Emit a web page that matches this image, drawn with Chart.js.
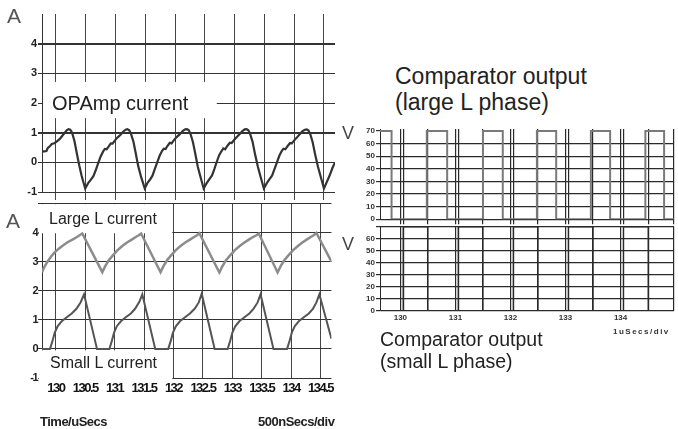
<!DOCTYPE html>
<html>
<head>
<meta charset="utf-8">
<script src="https://cdn.jsdelivr.net/npm/chart.js@4.4.1/dist/chart.umd.min.js"></script>
<style>
  body { margin: 0; background: #fff; }
  #wrap { position: relative; width: 678px; height: 429px; overflow: hidden;
          font-family: "Liberation Sans", Arial, sans-serif; color: #222; }
  canvas { position: absolute; }
  .t { position: absolute; white-space: nowrap; line-height: 1; }
  .b { font-weight: bold; }
</style>
</head>
<body>
<div id="wrap">
  <canvas id="opamp" width="340" height="200" style="left:0;top:0;width:340px;height:200px"></canvas>
  <canvas id="inductor" width="340" height="204" style="left:0;top:196px;width:340px;height:204px"></canvas>
  <canvas id="compLarge" width="338" height="105" style="left:340px;top:120px;width:338px;height:105px"></canvas>
  <canvas id="compSmall" width="338" height="104" style="left:340px;top:221px;width:338px;height:104px"></canvas>

  <div class="t" style="left:7px;top:5px;font-size:21px;color:#555">A</div>
  <div class="t" style="left:6px;top:210px;font-size:21px;color:#555">A</div>
  <div class="t" style="left:52px;top:93px;font-size:20px">OPAmp current</div>
  <div class="t" style="left:49px;top:211px;font-size:16px">Large L current</div>
  <div class="t" style="left:50px;top:355px;font-size:16px">Small L current</div>
  <div class="t b" style="left:40px;top:415px;font-size:13px;letter-spacing:-0.5px">Time/uSecs</div>
  <div class="t b" style="left:258px;top:415px;font-size:13px;letter-spacing:-0.5px">500nSecs/div</div>

  <div class="t" style="left:342px;top:124px;font-size:18px;color:#444">V</div>
  <div class="t" style="left:342px;top:235px;font-size:18px;color:#444">V</div>
  <div class="t" style="left:395px;top:63px;font-size:23px;line-height:26px">Comparator output<br>(large L phase)</div>
  <div class="t" style="left:380px;top:329px;font-size:19.5px;line-height:21.5px">Comparator output<br>(small L phase)</div>
  <div class="t b" style="left:613px;top:328px;font-size:8px;letter-spacing:1.5px;color:#333">1uSecs/div</div>
</div>

<script>
// ---- left panels: currents (A) vs time (uSecs)
const timeTicks = [130, 130.5, 131, 131.5, 132, 132.5, 133, 133.5, 134, 134.5];
const timeLabels = ['130', '130.5', '131', '131.5', '132', '132.5', '133', '133.5', '134', '134.5'];
const ampTicks = [-1, 0, 1, 2, 3, 4, 5];
const ampLabels = ['-1', '0', '1', '2', '3', '4', ''];

const opampTime = [129.765, 129.80, 129.84, 129.86, 129.90, 129.93, 129.97, 130.01, 130.06, 130.10, 130.14, 130.18, 130.21, 130.24, 130.27, 130.31, 130.35, 130.39, 130.43, 130.49,
  130.54, 130.58, 130.63, 130.67, 130.71, 130.75, 130.79, 130.82, 130.85, 130.88, 130.92, 130.95, 130.99, 131.04, 131.08, 131.13, 131.17, 131.20, 131.23, 131.26, 131.30, 131.34, 131.38, 131.43, 131.49,
  131.54, 131.58, 131.62, 131.66, 131.70, 131.74, 131.78, 131.81, 131.84, 131.87, 131.91, 131.94, 131.98, 132.03, 132.08, 132.13, 132.17, 132.20, 132.23, 132.26, 132.30, 132.34, 132.38, 132.43, 132.48,
  132.53, 132.57, 132.62, 132.66, 132.70, 132.74, 132.78, 132.81, 132.84, 132.88, 132.92, 132.95, 132.99, 133.04, 133.09, 133.13, 133.17, 133.20, 133.23, 133.26, 133.30, 133.34, 133.39, 133.44, 133.49,
  133.54, 133.58, 133.63, 133.67, 133.71, 133.75, 133.79, 133.82, 133.85, 133.89, 133.93, 133.96, 134.00, 134.05, 134.10, 134.14, 134.18, 134.21, 134.24, 134.27, 134.31, 134.35, 134.40, 134.45, 134.50,
  134.55, 134.60, 134.64, 134.685];
const opampAmps = [0.36, 0.37, 0.38, 0.48, 0.55, 0.62, 0.64, 0.70, 0.78, 0.88, 0.98, 1.08, 1.12, 1.10, 1.00, 0.72, 0.30, -0.10, -0.45, -0.88,
  -0.70, -0.60, -0.46, -0.25, -0.02, 0.20, 0.36, 0.45, 0.44, 0.52, 0.64, 0.63, 0.74, 0.85, 0.92, 1.04, 1.10, 1.12, 1.08, 0.96, 0.70, 0.30, -0.12, -0.50, -0.88,
  -0.68, -0.58, -0.45, -0.22, 0.00, 0.22, 0.38, 0.46, 0.45, 0.55, 0.66, 0.64, 0.75, 0.86, 0.95, 1.06, 1.11, 1.12, 1.08, 0.95, 0.68, 0.28, -0.14, -0.52, -0.88,
  -0.70, -0.58, -0.44, -0.22, 0.02, 0.24, 0.38, 0.47, 0.44, 0.56, 0.66, 0.65, 0.75, 0.86, 0.96, 1.05, 1.11, 1.12, 1.08, 0.96, 0.70, 0.30, -0.15, -0.52, -0.88,
  -0.70, -0.58, -0.44, -0.22, 0.00, 0.22, 0.38, 0.46, 0.44, 0.55, 0.65, 0.64, 0.74, 0.85, 0.96, 1.05, 1.10, 1.11, 1.07, 0.95, 0.68, 0.28, -0.16, -0.52, -0.88,
  -0.65, -0.42, -0.20, 0.00];

const largeLTime = [129.765, 129.80, 129.85, 129.92, 129.98, 130.05, 130.12, 130.20, 130.29, 130.36, 130.41, 130.45,
  130.79, 130.84, 130.90, 130.97, 131.05, 131.13, 131.21, 131.29, 131.36, 131.41, 131.45,
  131.78, 131.83, 131.89, 131.96, 132.04, 132.12, 132.20, 132.28, 132.35, 132.40, 132.44,
  132.78, 132.83, 132.89, 132.96, 133.04, 133.12, 133.20, 133.28, 133.35, 133.41, 133.45,
  133.77, 133.82, 133.88, 133.95, 134.03, 134.11, 134.19, 134.27, 134.34, 134.39, 134.43, 134.685];
const largeLAmps = [2.64, 2.80, 2.98, 3.18, 3.32, 3.45, 3.56, 3.67, 3.77, 3.85, 3.92, 3.97,
  2.64, 2.85, 3.05, 3.22, 3.40, 3.54, 3.66, 3.76, 3.85, 3.91, 3.97,
  2.64, 2.85, 3.05, 3.22, 3.40, 3.54, 3.66, 3.76, 3.85, 3.91, 3.98,
  2.63, 2.84, 3.04, 3.21, 3.39, 3.53, 3.65, 3.76, 3.85, 3.91, 3.97,
  2.63, 2.84, 3.04, 3.21, 3.39, 3.53, 3.66, 3.77, 3.86, 3.92, 3.99, 3.00];

const smallLTime = [129.765, 129.90, 129.94, 129.98, 130.03, 130.10, 130.18, 130.27, 130.35, 130.42, 130.48, 130.70,
  130.91, 130.95, 130.99, 131.04, 131.11, 131.19, 131.28, 131.35, 131.42, 131.47, 131.69,
  131.91, 131.95, 131.99, 132.04, 132.11, 132.19, 132.28, 132.36, 132.43, 132.48, 132.70,
  132.92, 132.96, 133.00, 133.05, 133.12, 133.20, 133.29, 133.36, 133.43, 133.48, 133.70,
  133.93, 133.97, 134.01, 134.06, 134.13, 134.21, 134.30, 134.37, 134.43, 134.48, 134.685];
const smallLAmps = [0, 0, 0.25, 0.55, 0.78, 0.95, 1.08, 1.22, 1.38, 1.60, 1.88, 0,
  0, 0.26, 0.56, 0.79, 0.96, 1.09, 1.23, 1.39, 1.62, 1.88, 0,
  0, 0.25, 0.55, 0.78, 0.95, 1.08, 1.22, 1.38, 1.60, 1.90, 0,
  0, 0.25, 0.55, 0.78, 0.95, 1.08, 1.22, 1.38, 1.60, 1.88, 0,
  0, 0.25, 0.55, 0.78, 0.95, 1.08, 1.22, 1.38, 1.60, 1.88, 0.35];

// ---- right panels: comparator outputs (V), levels held between edges
const compGrid = [130, 130.05, 130.5, 131, 131.05, 131.5, 132, 132.05, 132.5, 133, 133.05, 133.5, 134, 134.05, 134.5, 134.97];
const compGridLabels = ['130', '', '', '131', '', '', '132', '', '', '133', '', '', '134', '', '', ''];
const voltTicks = [0, 10, 20, 30, 40, 50, 60, 70];
const voltLabelsLarge = ['0', '10', '20', '30', '40', '50', '60', '70'];
const voltLabelsSmall = ['0', '10', '20', '30', '40', '50', '60', ''];

const largePhaseEdges = [129.63, 129.84, 130.48, 130.85, 131.50, 131.86, 132.48, 132.83, 133.46, 133.81, 134.45, 134.79, 134.97];
const largePhaseLevels = [70, 0, 70, 0, 70, 0, 70, 0, 70, 0, 70, 0];
const smallPhaseEdges = [129.63, 130.05, 130.5, 131.05, 131.5, 132.05, 132.5, 133.05, 133.5, 134.05, 134.5, 134.97];
const smallPhaseLevels = [0, 70, 0, 70, 0, 70, 0, 70, 0, 70, 0];

function pts(xs, ys) {
  return xs.map((x, i) => ({ x: x, y: ys[i] }));
}
function steps(edges, levels) {
  return edges.map((x, i) => ({ x: x, y: levels[Math.min(i, levels.length - 1)] }));
}
function fixedTicks(values) {
  return function (axis) { axis.ticks = values.map(v => ({ value: v })); };
}

// white patches behind the panel captions, drawn after the grid and before the traces
const labelBoxes = {
  id: 'labelBoxes',
  beforeDatasetsDraw(chart, args, opts) {
    const ctx = chart.ctx, x = chart.scales.x, y = chart.scales.y;
    ctx.save();
    ctx.fillStyle = '#fff';
    (opts.boxes || []).forEach(b => {
      const x0 = x.getPixelForValue(b.x[0]), x1 = x.getPixelForValue(b.x[1]);
      const y0 = y.getPixelForValue(b.y[1]), y1 = y.getPixelForValue(b.y[0]);
      ctx.fillRect(x0, y0, x1 - x0, y1 - y0);
    });
    ctx.restore();
  }
};
// squeeze the scope's narrow tick font a little
const narrowText = {
  id: 'narrowText',
  beforeDraw(chart, args, opts) { chart.ctx.letterSpacing = opts.spacing || '0px'; }
};

const hidden = 'rgba(0,0,0,0)';

function baseOptions() {
  return {
    responsive: false,
    animation: false,
    events: [],
    plugins: { legend: { display: false }, tooltip: { enabled: false } }
  };
}

// OPAmp current
const o1 = baseOptions();
o1.layout = { padding: { top: 14, right: 5, left: 0, bottom: 0 } };
o1.plugins.labelBoxes = { boxes: [{ x: [129.783, 132.70], y: [1.49, 2.71] }] };
o1.scales = {
  x: {
    type: 'linear', min: 129.765, max: 134.685,
    afterBuildTicks: fixedTicks(timeTicks),
    afterFit: s => { s.height = 8; },
    grid: { color: '#444', tickLength: 8 },
    border: { display: false },
    ticks: { display: false }
  },
  y: {
    min: -1, max: 5,
    afterBuildTicks: fixedTicks(ampTicks),
    afterFit: s => { s.width = 42; },
    grid: {
      color: c => c.tick.value === 5 ? hidden : '#333',
      lineWidth: c => (c.tick.value === 4 || c.tick.value === 1) ? 2 : 1,
      tickLength: 4
    },
    border: { color: '#333' },
    ticks: { padding: 1, color: '#222', autoSkip: false, font: { weight: 'bold', size: 11 },
             callback: (v, i) => ampLabels[i] }
  }
};
new Chart(document.getElementById('opamp'), {
  type: 'line',
  data: { datasets: [{ data: pts(opampTime, opampAmps), borderColor: '#333', borderWidth: 2.2,
                       pointRadius: 0, tension: 0 }] },
  options: o1,
  plugins: [labelBoxes]
});

// Large L / Small L currents
const o2 = baseOptions();
o2.layout = { padding: { top: 4, right: 5, left: 0, bottom: 0 } };
o2.plugins.labelBoxes = { boxes: [
  { x: [129.71, 131.98], y: [3.98, 4.98] },
  { x: [129.71, 131.98], y: [-1.05, -0.05] }
] };
o2.plugins.narrowText = { spacing: '-1.5px' };
o2.scales = {
  x: {
    type: 'linear', min: 129.765, max: 134.685,
    afterBuildTicks: fixedTicks(timeTicks),
    afterFit: s => { s.height = 22; },
    grid: { color: '#444', drawTicks: false },
    border: { display: false },
    ticks: { padding: 3, color: '#111', autoSkip: false, maxRotation: 0, minRotation: 0,
             font: { weight: 'bold', size: 13 }, callback: (v, i) => timeLabels[i] }
  },
  y: {
    min: -1, max: 5,
    afterBuildTicks: fixedTicks(ampTicks),
    afterFit: s => { s.width = 42; },
    grid: { color: '#333', tickLength: 4 },
    border: { color: '#333' },
    ticks: { padding: 1, color: '#222', autoSkip: false, font: { weight: 'bold', size: 11 },
             callback: (v, i) => ampLabels[i] }
  }
};
new Chart(document.getElementById('inductor'), {
  type: 'line',
  data: { datasets: [
    { data: pts(largeLTime, largeLAmps), borderColor: '#8c8c8c', borderWidth: 2.5, pointRadius: 0, tension: 0 },
    { data: pts(smallLTime, smallLAmps), borderColor: '#555', borderWidth: 2, pointRadius: 0, tension: 0 }
  ] },
  options: o2,
  plugins: [labelBoxes, narrowText]
});

// comparator output, large L phase
const o3 = baseOptions();
o3.layout = { padding: { top: 9, right: 4, left: 0, bottom: 0 } };
o3.scales = {
  x: {
    type: 'linear', min: 129.63, max: 134.97,
    afterBuildTicks: fixedTicks(compGrid),
    afterFit: s => { s.height = 5; },
    grid: { color: '#2a2a2a', lineWidth: 1.2, tickLength: 5 },
    border: { display: false },
    ticks: { display: false }
  },
  y: {
    min: 0, max: 71.5,
    afterBuildTicks: fixedTicks(voltTicks),
    afterFit: s => { s.width = 40; },
    grid: { color: c => c.tick.value === 70 ? hidden : '#2a2a2a', tickColor: '#333', lineWidth: 1.2, tickLength: 4 },
    border: { color: '#2a2a2a' },
    ticks: { padding: 1, color: '#333', autoSkip: false, font: { weight: 'bold', size: 8 },
             callback: (v, i) => voltLabelsLarge[i] }
  }
};
new Chart(document.getElementById('compLarge'), {
  type: 'line',
  data: { datasets: [{ data: steps(largePhaseEdges, largePhaseLevels), stepped: 'before',
                       borderColor: '#7a7a7a', borderWidth: 2, pointRadius: 0 }] },
  options: o3
});

// comparator output, small L phase
const o4 = baseOptions();
o4.layout = { padding: { top: 4, right: 4, left: 0, bottom: 0 } };
o4.scales = {
  x: {
    type: 'linear', min: 129.63, max: 134.97,
    afterBuildTicks: fixedTicks(compGrid),
    afterFit: s => { s.height = 14; },
    grid: { color: '#2a2a2a', lineWidth: 1.2, drawTicks: false },
    border: { display: false },
    ticks: { padding: 2, color: '#333', autoSkip: false, maxRotation: 0, minRotation: 0,
             font: { weight: 'bold', size: 8 }, callback: (v, i) => compGridLabels[i] }
  },
  y: {
    min: 0, max: 70,
    afterBuildTicks: fixedTicks(voltTicks),
    afterFit: s => { s.width = 40; },
    grid: { color: '#2a2a2a', lineWidth: 1.2, tickLength: 4 },
    border: { color: '#2a2a2a' },
    ticks: { padding: 1, color: '#333', autoSkip: false, font: { weight: 'bold', size: 8 },
             callback: (v, i) => voltLabelsSmall[i] }
  }
};
new Chart(document.getElementById('compSmall'), {
  type: 'line',
  data: { datasets: [{ data: steps(smallPhaseEdges, smallPhaseLevels), stepped: 'before',
                       borderColor: '#2a2a2a', borderWidth: 1.2, pointRadius: 0 }] },
  options: o4
});
</script>
</body>
</html>
